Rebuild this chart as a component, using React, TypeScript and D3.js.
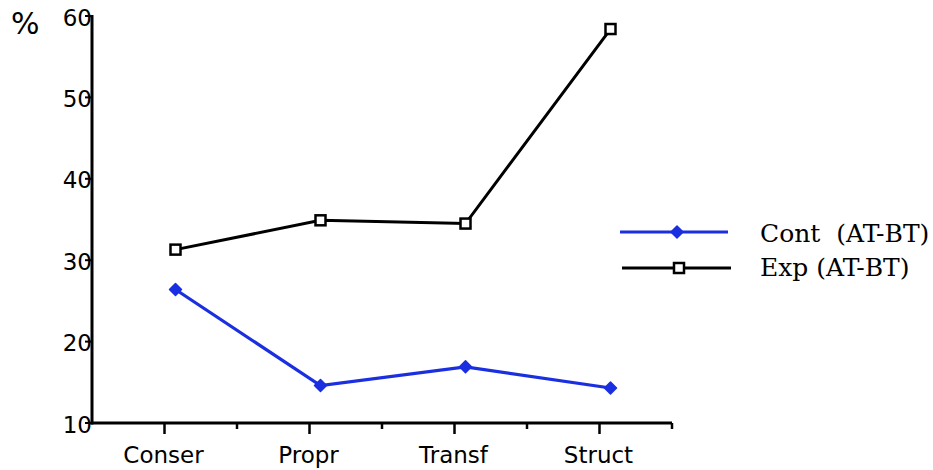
import React from "react";
import * as d3 from "d3";

const categories = ["Conser", "Propr", "Transf", "Struct"];
const contValues = [26.4, 14.6, 16.9, 14.3];
const expValues = [31.3, 34.9, 34.5, 58.4];
const yTicks = [10, 20, 30, 40, 50, 60];
const seriesNames = ["Cont  (AT-BT)", "Exp (AT-BT)"];

const W = 933;
const H = 470;
const left = 92;
const right = 672;
const top = 16;
const bottom = 423;
const pointOffset = 11;

export default function App() {
  const x = d3.scaleBand<string>().domain(categories).range([left, right]).padding(0);
  const y = d3.scaleLinear().domain([10, 60]).range([bottom, top]);
  const cx = (c: string) => (x(c) as number) + x.bandwidth() / 2;
  const px = (c: string) => cx(c) + pointOffset;

  const line = d3
    .line<number>()
    .x((_, i) => px(categories[i]))
    .y((d) => y(d));

  const sans = "'DejaVu Sans', Verdana, sans-serif";
  const serif = "'DejaVu Serif', 'Liberation Serif', serif";
  const blue = "#1a2fe0";

  const diamond = (xx: number, yy: number, r: number, key?: string) => (
    <path
      key={key}
      d={`M${xx},${yy - r}L${xx + r},${yy}L${xx},${yy + r}L${xx - r},${yy}Z`}
      fill={blue}
      stroke={blue}
      strokeWidth={1.5}
      strokeLinejoin="round"
    />
  );
  const square = (xx: number, yy: number, s: number, key?: string) => (
    <rect
      key={key}
      x={xx - s / 2}
      y={yy - s / 2}
      width={s}
      height={s}
      fill="white"
      stroke="black"
      strokeWidth={2.5}
    />
  );

  return (
    <svg
      width={W}
      height={H}
      style={{ position: "absolute", left: 0, top: 0, background: "white" }}
    >
      <text x={11} y={34} fontFamily={sans} fontSize={30} fill="black">
        %
      </text>

      {/* y axis */}
      <line x1={left} x2={left} y1={top - 1} y2={bottom + 1.5} stroke="black" strokeWidth={3} />
      {yTicks.map((t) => (
        <g key={t}>
          <line x1={left - 7} x2={left} y1={y(t)} y2={y(t)} stroke="black" strokeWidth={2} />
          <text
            x={left}
            y={y(t) + 9.5}
            textAnchor="end"
            fontFamily={sans}
            fontSize={23}
            fill="black"
          >
            {t}
          </text>
        </g>
      ))}

      {/* x axis */}
      <line x1={left - 1.5} x2={right} y1={bottom} y2={bottom} stroke="black" strokeWidth={3} />
      {categories.map((c) => (
        <g key={c}>
          <line x1={cx(c)} x2={cx(c)} y1={bottom} y2={bottom + 11} stroke="black" strokeWidth={2.5} />
          <line
            x1={(x(c) as number) + x.bandwidth()}
            x2={(x(c) as number) + x.bandwidth()}
            y1={bottom}
            y2={bottom + 6}
            stroke="black"
            strokeWidth={2.5}
          />
          <text
            x={cx(c) - 1}
            y={463}
            textAnchor="middle"
            fontFamily={sans}
            fontSize={23}
            fill="black"
          >
            {c}
          </text>
        </g>
      ))}

      {/* series */}
      <path d={line(expValues) || ""} fill="none" stroke="black" strokeWidth={3} />
      <path d={line(contValues) || ""} fill="none" stroke={blue} strokeWidth={3.2} />
      {expValues.map((v, i) => square(px(categories[i]), y(v), 10, "s" + i))}
      {contValues.map((v, i) => diamond(px(categories[i]), y(v), 6, "d" + i))}

      {/* legend */}
      <line x1={620} x2={728} y1={232} y2={232} stroke={blue} strokeWidth={3} />
      {diamond(677, 232, 6)}
      <text
        x={760}
        y={242}
        fontFamily={serif}
        fontSize={25}
        fill="black"
        style={{ whiteSpace: "pre" }}
      >
        {seriesNames[0]}
      </text>
      <line x1={622} x2={731} y1={268} y2={268} stroke="black" strokeWidth={3} />
      {square(679, 268, 10)}
      <text
        x={760}
        y={276}
        fontFamily={serif}
        fontSize={25}
        fill="black"
        style={{ whiteSpace: "pre" }}
      >
        {seriesNames[1]}
      </text>
    </svg>
  );
}
